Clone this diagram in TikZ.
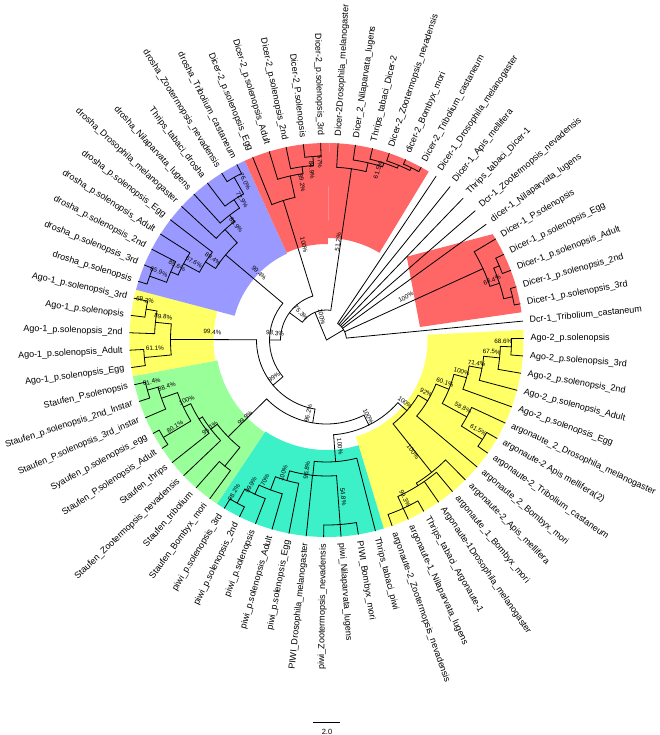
\documentclass[tikz,border=0pt]{standalone}
\usepackage{fontspec}
\setmainfont{Liberation Sans}
\definecolor{cred}{RGB}{255,102,102}
\definecolor{cblue}{RGB}{153,153,255}
\definecolor{cyel}{RGB}{255,255,102}
\definecolor{cgrn}{RGB}{153,255,153}
\definecolor{cteal}{RGB}{60,240,200}
\newcommand\ang[1]{(5.5+(72-(#1))*5.070423)}
\newcount\bsn
\begin{document}
\begin{tikzpicture}[x=1pt,y=1pt,
  br/.style={line width=0.8pt,line cap=round},
  lab/.style={font=\fontsize{9}{10}\selectfont,inner sep=0pt},
  bs/.style={font=\fontsize{6.3}{7}\selectfont,inner sep=0pt}]
\useasboundingbox (-326.5,-395) rectangle (333.5,340);
% macros
\newcommand\sect[4]{\fill[#1] ({\ang{#2}+2.535}:#4pt) arc[start angle={\ang{#2}+2.535}, end angle={\ang{#3}-2.535}, radius=#4pt] -- ({\ang{#3}-2.535}:197pt) arc[start angle={\ang{#3}-2.535}, end angle={\ang{#2}+2.535}, radius=197pt] -- cycle;}
\newcommand\nd[5]{\draw[br] ({\ang{#2}}:#3pt) -- ({\ang{#2}}:#1pt);
  \draw[br] ({\ang{#4}}:#1pt) arc[start angle={\ang{#4}}, end angle={\ang{#5}}, radius=#1pt];}
\newcommand\lf[2]{\draw[br] ({\ang{#1}}:#2pt) -- ({\ang{#1}}:197pt);}
\newcommand\LB[2]{\pgfmathsetmacro\lbA{mod(\ang{#1},360)}%
  \pgfmathtruncatemacro\lbF{(\lbA>90)&&(\lbA<270)}%
  \ifnum\lbF=1 \node[lab,anchor=east,rotate=\lbA-180] (L#1) at (\lbA:204pt) {#2};%
  \else \node[lab,anchor=west,rotate=\lbA] (L#1) at (\lbA:204pt) {#2};\fi}
\newcommand\BS[3]{\global\advance\bsn by 1
  \pgfmathsetmacro\bsX{#1-326.5}\pgfmathsetmacro\bsY{340-#2}%
  \pgfmathsetmacro\bsA{mod(atan2(\bsY,\bsX)+360,360)}%
  \pgfmathtruncatemacro\bsF{(\bsA>90)&&(\bsA<270)}%
  \ifnum\bsF=1 \pgfmathsetmacro\bsR{\bsA-180}\else\pgfmathsetmacro\bsR{\bsA}\fi
  \node[bs,rotate=\bsR] (B\the\bsn) at (\bsX,\bsY) {#3};}
% highlighted clades
\sect{cyel}{2}{16}{101}
\sect{cteal}{17}{26}{110}
\sect{cgrn}{27}{35}{111}
\sect{cyel}{36}{40}{113}
\sect{cblue}{41}{50}{95}
\sect{cred}{51}{55}{96}
\sect{cred}{56}{61}{102}
\fill[cred] (80.2,83.3) -- (32.5:197pt) arc[start angle=32.5, end angle=8.1, radius=197pt] -- (93.5,13) -- cycle;
% root child 1: Dicer-1 group
\nd{20}{67}{0}{62}{72}
\lf{62}{20}\lf{63}{20}\lf{64}{20}\lf{65}{20}\lf{66}{20}\lf{72}{20}
\nd{172}{68.25}{20}{67}{69.5}
\lf{67}{172}
\nd{182}{69.5}{172}{68.5}{70.5}
\nd{188}{68.5}{182}{68}{69}
\lf{68}{188}\lf{69}{188}
\nd{191}{70.5}{182}{70}{71}
\lf{70}{191}\lf{71}{191}
% root child 2: A = (Dicer-2 insects, N1)
\nd{30}{50.87}{0}{44.76}{56.97}
\nd{173}{56.97}{30}{56}{57.94}
\lf{56}{173}
\nd{182}{57.94}{173}{57}{58.875}
\lf{57}{182}
\nd{186}{58.875}{182}{58}{59.75}
\lf{58}{186}
\nd{189}{59.75}{186}{59}{60.5}
\lf{59}{189}
\nd{192}{60.5}{189}{60}{61}
\lf{60}{192}\lf{61}{192}
% N1 = (Dicer-2 P.solenopsis, N2)
\nd{46}{44.76}{30}{37.58}{51.94}
\nd{146}{51.94}{46}{51}{52.875}
\lf{51}{146}
\nd{168}{52.875}{146}{52}{53.75}
\lf{52}{168}
\nd{175}{53.75}{168}{53}{54.5}
\lf{53}{175}
\nd{184}{54.5}{175}{54}{55}
\lf{54}{184}\lf{55}{184}
% N2 = (drosha, N3)
\nd{57}{37.58}{46}{29.66}{45.5}
\nd{132}{45.5}{57}{44.06}{46.94}
\nd{144}{44.06}{132}{43.125}{45}
\lf{45}{144}
\nd{162}{43.125}{144}{42.25}{44}
\lf{44}{162}
\nd{170}{42.25}{162}{41.5}{43}
\lf{43}{170}
\nd{188}{41.5}{170}{41}{42}
\lf{41}{188}\lf{42}{188}
\nd{150}{46.94}{132}{46}{47.875}
\lf{46}{150}
\nd{158}{47.875}{150}{47}{48.75}
\lf{47}{158}
\nd{168}{48.75}{158}{48}{49.5}
\lf{48}{168}
\nd{187}{49.5}{168}{49}{50}
\lf{49}{187}\lf{50}{187}
% N3 = (Ago-1, N4)
\nd{70}{29.66}{57}{21.7}{37.625}
\nd{156}{37.625}{70}{36.5}{38.75}
\nd{183}{36.5}{156}{36}{37}
\lf{36}{183}\lf{37}{183}
\nd{172}{38.75}{156}{38}{39.5}
\lf{38}{172}
\nd{183}{39.5}{172}{39}{40}
\lf{39}{183}\lf{40}{183}
% N4 = (Staufen, N5)
\nd{84}{21.7}{70}{14.61}{28.8}
\nd{138}{28.8}{84}{27.5}{30.16}
\nd{162}{27.5}{138}{27}{28}
\lf{27}{162}\lf{28}{162}
\nd{146}{30.16}{138}{29}{31.31}
\lf{29}{146}
\nd{150}{31.31}{146}{30}{32.625}
\lf{30}{150}
\nd{158}{32.625}{150}{31.5}{33.75}
\nd{190}{31.5}{158}{31}{32}
\lf{31}{190}\lf{32}{190}
\nd{175}{33.75}{158}{33}{34.5}
\lf{33}{175}
\nd{186}{34.5}{175}{34}{35}
\lf{34}{186}\lf{35}{186}
% N5 = (argonaute, piwi)
\nd{95}{14.61}{84}{10.23}{18.99}
\nd{122}{18.99}{95}{17}{20.97}
\lf{17}{122}
\nd{136}{20.97}{122}{19}{22.94}
\nd{185}{19}{136}{18}{20}
\lf{18}{185}\lf{19}{185}\lf{20}{185}
\lf{21}{136}
\nd{146}{22.94}{136}{22}{23.875}
\lf{22}{146}
\nd{160}{23.875}{146}{23}{24.75}
\lf{23}{160}
\nd{170}{24.75}{160}{24}{25.5}
\lf{24}{170}
\nd{186}{25.5}{170}{25}{26}
\lf{25}{186}\lf{26}{186}
% argonaute clade Y = (n92, V)
\nd{107}{10.23}{95}{8.205}{12.25}
\nd{118}{8.205}{107}{6.41}{10}
\lf{10}{118}
\nd{132}{6.41}{118}{5.06}{7.75}
\nd{145}{5.06}{132}{4.125}{6}
\lf{6}{145}
\nd{158}{4.125}{145}{3.25}{5}
\lf{5}{158}
\nd{174}{3.25}{158}{2.5}{4}
\lf{4}{174}
\nd{185}{2.5}{174}{2}{3}
\lf{2}{185}\lf{3}{185}
\nd{160}{7.75}{132}{7}{8.5}
\lf{7}{160}
\nd{185}{8.5}{160}{8}{9}
\lf{8}{185}\lf{9}{185}
\nd{169}{12.25}{107}{11}{13.5}
\lf{11}{169}
\nd{172}{13.5}{169}{12}{15}
\lf{12}{172}\lf{13}{172}
\nd{185}{15}{172}{14}{16}
\lf{14}{185}\lf{15}{185}\lf{16}{185}
% leaf labels
\LB{2}{Ago-2\_p.solenopsis}
\LB{3}{Ago-2\_p.solenopsis\_3rd}
\LB{4}{Ago-2\_p.solenopsis\_2nd}
\LB{5}{Ago-2\_p.solenopsis\_Adult}
\LB{6}{Ago-2\_p.solenopsis\_Egg}
\LB{7}{argonaute\_2\_Drosophila\_melanogaster}
\LB{8}{argonaute-2 Apis mellifera(2)}
\LB{9}{argonaute-2\_Tribolium\_castaneum}
\LB{10}{argonaute\_2\_Bombyx\_mori}
\LB{11}{argonaute-2\_Apis\_mellifera}
\LB{12}{argonaute\_1\_Bombyx\_mori}
\LB{13}{Argonaute-1Drosophila\_melanogaster}
\LB{14}{Thrips\_tabaci\_Argonaute-1}
\LB{15}{argonaute-1\_Nilaparvata\_lugens}
\LB{16}{argonaute-2\_Zootermopsis\_nevadensis}
\LB{17}{Thrips\_tabaci\_piwi}
\LB{18}{PIWI\_Bombyx\_mori}
\LB{19}{piwi\_Nilaparvata\_lugens}
\LB{20}{piwi\_Zootermopsis\_nevadensis}
\LB{21}{PIWI\_Drosophila\_melanogaster}
\LB{22}{piwi\_p.solenopsis\_Egg}
\LB{23}{piwi\_p.solenopsis\_Adult}
\LB{24}{piwi\_p.solenopsis}
\LB{25}{piwi\_p.solenopsis\_2nd}
\LB{26}{piwi\_p.solenopsis\_3rd}
\LB{27}{Staufen\_Bombyx\_mori}
\LB{28}{Staufen\_tribolium}
\LB{29}{Staufen\_Zootermopsis\_nevadensis}
\LB{30}{Staufen\_thrips}
\LB{31}{Staufen\_P.solenopsis\_Adult}
\LB{32}{Syaufen\_p.solenopsis\_egg}
\LB{33}{Staufen\_P.solenopsis\_3rd\_instar}
\LB{34}{Staufen\_p.solenopsis\_2nd\_Instar}
\LB{35}{Staufen\_P.solenopsis}
\LB{36}{Ago-1\_p.solenopsis\_Egg}
\LB{37}{Ago-1\_p.solenopsis\_Adult}
\LB{38}{Ago-1\_p.solenopsis\_2nd}
\LB{39}{Ago-1\_p.solenopsis}
\LB{40}{Ago-1\_p.solenopsis\_3rd}
\LB{41}{drosha\_p.solenopsis}
\LB{42}{drosha\_p.solenopsis\_3rd}
\LB{43}{drosha\_p.solenopsis\_2nd}
\LB{44}{drosha\_p.solenopsis\_Adult}
\LB{45}{drosha\_p.solenopsis\_Egg}
\LB{46}{drosha\_Drosophila\_melanogaster}
\LB{47}{drosha\_Nilaparvata\_lugens}
\LB{48}{Thrips\_tabaci\_drosha}
\LB{49}{drosha\_Zootermopsis\_nevadensis}
\LB{50}{drosha\_Tribolium\_castaneum}
\LB{51}{Dicer-2\_p.solenopsis\_Egg}
\LB{52}{Dicer-2\_p.solenopsis\_Adult}
\LB{53}{Dicer-2\_p.solenopsis\_2nd}
\LB{54}{Dicer-2\_P.solenopsis}
\LB{55}{Dicer-2\_p.solenopsis\_3rd}
\LB{56}{Dicer-2Drosophila\_melanogaster}
\LB{57}{Dicer\_2\_Nilaparvata\_lugens}
\LB{58}{Thrips\_tabaci\_Dicer-2}
\LB{59}{Dicer-2\_Zootermopsis\_nevadensis}
\LB{60}{dicer-2\_Bombyx\_mori}
\LB{61}{Dicer-2\_Tribolium\_castaneum}
\LB{62}{Dicer-1\_Drosophila\_melanogaster}
\LB{63}{Dicer-1\_Apis\_mellifera}
\LB{64}{Thrips\_tabaci\_Dicer-1}
\LB{65}{Dcr-1\_Zootermopsis\_nevadensis}
\LB{66}{dicer-1\_Nilaparvata\_lugens}
\LB{67}{Dicer-1\_P.solenopsis}
\LB{68}{Dicer-1\_p.solenopsis\_Egg}
\LB{69}{Dicer-1\_p.solenopsis\_Adult}
\LB{70}{Dicer-1\_p.solenopsis\_2nd}
\LB{71}{Dicer-1\_p.solenopsis\_3rd}
\LB{72}{Dcr-1\_Tribolium\_castaneum}
% support values
\BS{320}{162}{57\%}
\BS{311.7}{170}{84.9\%}
\BS{302}{183}{89.2\%}
\BS{304}{245}{100\%}
\BS{378}{170}{61.5\%}
\BS{338}{242}{51.2\%}
\BS{321.7}{316.7}{100\%}
\BS{406}{297}{100\%}
\BS{492}{280}{68.4\%}
\BS{245}{181.7}{76.0\%}
\BS{242}{200}{72.9\%}
\BS{236}{225}{88.9\%}
\BS{213}{259}{89.4\%}
\BS{194}{262}{67.6\%}
\BS{177}{266}{85.6\%}
\BS{159}{272}{85.9\%}
\BS{259}{273}{99.4\%}
\BS{145}{300}{69.2\%}
\BS{163.3}{316.7}{89.8\%}
\BS{155}{348.3}{61.1\%}
\BS{212.5}{332}{99.4\%}
\BS{301}{313}{75.3\%}
\BS{275}{333.3}{98.3\%}
\BS{274}{377}{99\%}
\BS{308.3}{413.3}{96.2\%}
\BS{368.3}{416.7}{100\%}
\BS{151.7}{381.7}{81.4\%}
\BS{166.7}{386.7}{88.4\%}
\BS{186.7}{400}{100\%}
\BS{175}{426.7}{80.1\%}
\BS{210}{428}{95.1\%}
\BS{245}{418}{99.9\%}
\BS{340}{446.7}{100\%}
\BS{343.3}{496.7}{54.8\%}
\BS{306.7}{470}{96.8\%}
\BS{283.3}{473.3}{100\%}
\BS{265}{480}{70\%}
\BS{251}{485}{99.9\%}
\BS{234}{492.5}{98.2\%}
\BS{503.3}{341.7}{68.6\%}
\BS{491.7}{351.7}{67.5\%}
\BS{476.7}{363.3}{71.4\%}
\BS{461.7}{371.7}{100\%}
\BS{445}{382.5}{60.1\%}
\BS{426}{392.5}{92\%}
\BS{463}{408}{58.8\%}
\BS{478.3}{430}{61.5\%}
\BS{405}{402.5}{100\%}
\BS{413}{452}{100\%}
\BS{405}{498.3}{99.3\%}
% scale bar
\coordinate (sb1) at (-13.5,-382);
\coordinate (sb2) at (13.5,-382);
\draw[line width=0.8pt] (sb1) -- (sb2);
\node[font=\fontsize{7.5}{8}\selectfont,inner sep=0pt] (sbt) at (0.5,-391.5) {2.0};
\end{tikzpicture}
\end{document}
